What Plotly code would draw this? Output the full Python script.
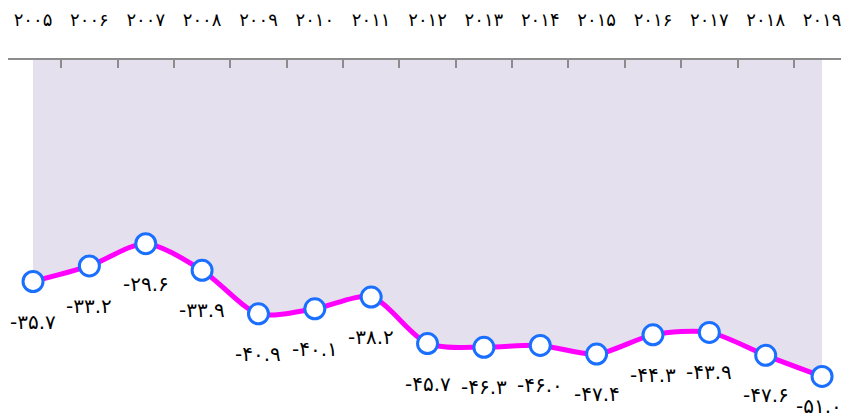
import plotly.graph_objects as go

YEARS = ["۲۰۰۵", "۲۰۰۶", "۲۰۰۷", "۲۰۰۸", "۲۰۰۹", "۲۰۱۰", "۲۰۱۱", "۲۰۱۲",
         "۲۰۱۳", "۲۰۱۴", "۲۰۱۵", "۲۰۱۶", "۲۰۱۷", "۲۰۱۸", "۲۰۱۹"]
VALUES = [-35.7, -33.2, -29.6, -33.9, -40.9, -40.1, -38.2, -45.7,
          -46.3, -46.0, -47.4, -44.3, -43.9, -47.6, -51.0]

PERSIAN_DIGITS = str.maketrans("0123456789", "۰۱۲۳۴۵۶۷۸۹")
LABELS = [f"{v:.1f}".translate(PERSIAN_DIGITS) for v in VALUES]

FONT = "DejaVu Sans, sans-serif"

fig = go.Figure()
fig.add_trace(
    go.Scatter(
        x=YEARS,
        y=VALUES,
        mode="lines+markers",
        fill="tozeroy",
        fillcolor="#e5e0ee",
        line={"color": "#ff00ff", "width": 5, "shape": "spline", "smoothing": 0.8},
        marker={"size": 20, "color": "white", "line": {"color": "#1a6fff", "width": 3}},
        showlegend=False,
        hoverinfo="skip",
    )
)

# value labels sit below each point; the last one is nudged to stay inside
last = len(YEARS) - 1
for i, (year, value, label) in enumerate(zip(YEARS, VALUES, LABELS)):
    fig.add_annotation(
        x=year,
        y=value,
        text=label,
        showarrow=False,
        yshift=-30 if i == last else -40,
        xshift=-3 if i == last else 0,
        font={"family": FONT, "size": 20, "color": "#000000"},
    )

# the page body adds an 8px offset, so the figure is sized to fit inside it
fig.update_layout(
    width=841,
    height=410,
    paper_bgcolor="white",
    plot_bgcolor="white",
    margin={"l": 0, "r": 0, "t": 52, "b": 0},
    font={"family": FONT, "size": 18, "color": "#000000"},
)
fig.update_xaxes(
    type="category",
    side="top",
    range=[-0.444, 14.478],
    automargin=False,
    showgrid=False,
    zeroline=False,
    showline=True,
    linecolor="#8c8c8c",
    linewidth=2,
    ticks="inside",
    tickson="boundaries",
    ticklen=8,
    tickwidth=2,
    tickcolor="#8c8c8c",
    ticklabelstandoff=25,
    tickfont={"family": FONT, "size": 18, "color": "#000000"},
)
fig.update_yaxes(
    range=[-57.7, 0],
    visible=False,
    automargin=False,
    showgrid=False,
    zeroline=False,
)

fig.write_html("out.html")
